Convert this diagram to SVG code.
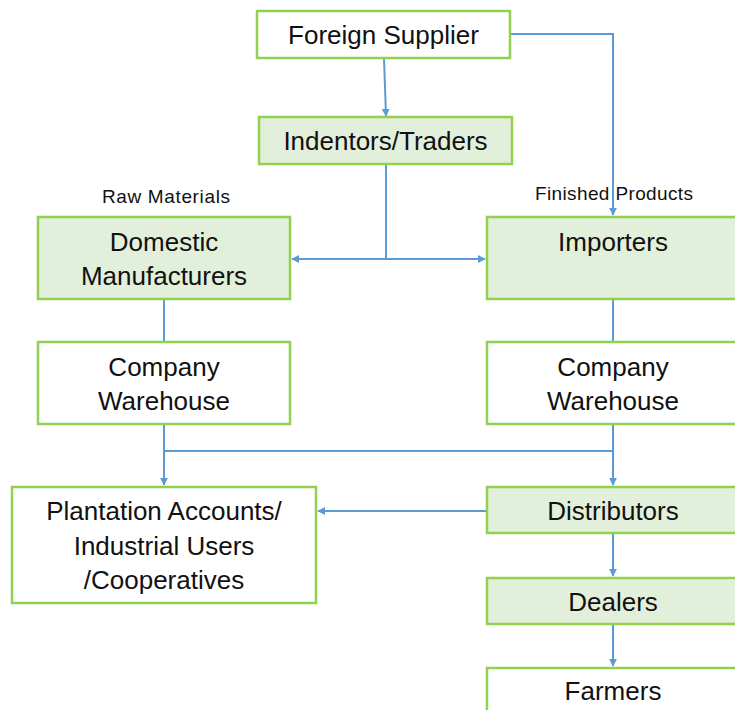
<svg xmlns="http://www.w3.org/2000/svg" width="735" height="710" viewBox="0 0 735 710">
  <style>
    .box { stroke: #92D050; stroke-width: 2.5; }
    .plain { fill: #FFFFFF; }
    .tint { fill: #E2EFDA; }
    .label { font-family: "Liberation Sans", Arial, sans-serif; font-size: 26px; fill: #111111; text-anchor: middle; }
    .note { font-family: "Liberation Sans", Arial, sans-serif; font-size: 19px; fill: #111111; text-anchor: middle; }
    .wire { fill: none; stroke: #5B9BD5; stroke-width: 2; }
  </style>
  <defs>
    <marker id="arrow" viewBox="0 0 10 10" refX="9" refY="5" markerWidth="8" markerHeight="8" orient="auto-start-reverse" markerUnits="userSpaceOnUse">
      <path d="M0,0 L10,5 L0,10 z" fill="#5B9BD5"/>
    </marker>
  </defs>
  <rect width="735" height="710" fill="#FFFFFF"/>

  <g id="connectors">
    <line class="wire" x1="384" y1="58" x2="386" y2="116" marker-end="url(#arrow)"/>
    <polyline class="wire" points="510,34 613,34 613,215" marker-end="url(#arrow)"/>
    <line class="wire" x1="386" y1="164" x2="386" y2="259"/>
    <line class="wire" x1="292" y1="259" x2="485" y2="259" marker-start="url(#arrow)" marker-end="url(#arrow)"/>
    <line class="wire" x1="164" y1="299" x2="164" y2="342"/>
    <line class="wire" x1="613" y1="299" x2="613" y2="342"/>
    <line class="wire" x1="164" y1="424" x2="164" y2="485" marker-end="url(#arrow)"/>
    <line class="wire" x1="164" y1="451" x2="613" y2="451"/>
    <line class="wire" x1="613" y1="424" x2="613" y2="485" marker-end="url(#arrow)"/>
    <line class="wire" x1="487" y1="511" x2="318" y2="511" marker-end="url(#arrow)"/>
    <line class="wire" x1="613" y1="533" x2="613" y2="576" marker-end="url(#arrow)"/>
    <line class="wire" x1="613" y1="624" x2="613" y2="666" marker-end="url(#arrow)"/>
  </g>

  <g id="foreign-supplier">
    <rect class="box plain" x="257" y="11" width="253" height="47"/>
    <text class="label" x="383.5" y="44">Foreign Supplier</text>
  </g>
  <g id="indentors-traders">
    <rect class="box tint" x="259" y="117" width="253" height="47"/>
    <text class="label" x="385.5" y="150">Indentors/Traders</text>
  </g>

  <text class="note" x="166" y="203" textLength="128" lengthAdjust="spacing">Raw Materials</text>
  <text class="note" x="614" y="200" textLength="158" lengthAdjust="spacing">Finished Products</text>

  <g id="domestic-manufacturers">
    <rect class="box tint" x="38" y="217" width="252" height="82"/>
    <text class="label" x="164" y="251">Domestic</text>
    <text class="label" x="164" y="285">Manufacturers</text>
  </g>
  <g id="importers">
    <rect class="box tint" x="487" y="217" width="260" height="82"/>
    <text class="label" x="613" y="251">Importers</text>
  </g>
  <g id="company-warehouse-left">
    <rect class="box plain" x="38" y="342" width="252" height="82"/>
    <text class="label" x="164" y="376">Company</text>
    <text class="label" x="164" y="410">Warehouse</text>
  </g>
  <g id="company-warehouse-right">
    <rect class="box plain" x="487" y="342" width="260" height="82"/>
    <text class="label" x="613" y="376">Company</text>
    <text class="label" x="613" y="410">Warehouse</text>
  </g>
  <g id="plantation-accounts">
    <rect class="box plain" x="12" y="487" width="304" height="116"/>
    <text class="label" x="164" y="520">Plantation Accounts/</text>
    <text class="label" x="164" y="555">Industrial Users</text>
    <text class="label" x="164" y="589">/Cooperatives</text>
  </g>
  <g id="distributors">
    <rect class="box tint" x="487" y="487" width="260" height="46"/>
    <text class="label" x="613" y="520">Distributors</text>
  </g>
  <g id="dealers">
    <rect class="box tint" x="487" y="578" width="260" height="46"/>
    <text class="label" x="613" y="611">Dealers</text>
  </g>
  <g id="farmers">
    <rect class="box plain" x="487" y="668" width="260" height="60"/>
    <text class="label" x="613" y="700">Farmers</text>
  </g>
</svg>
